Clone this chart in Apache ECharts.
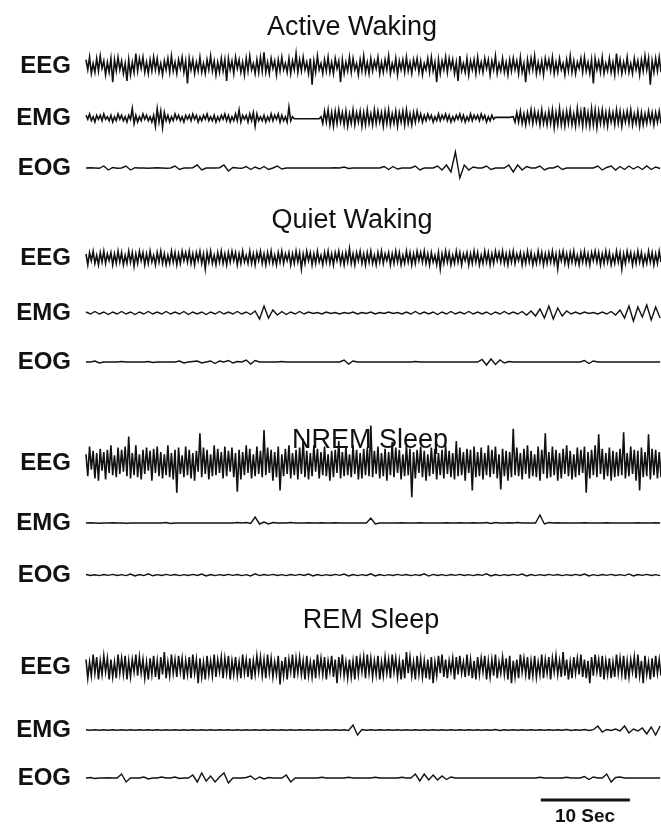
<!DOCTYPE html>
<html><head><meta charset="utf-8">
<script src="https://cdn.jsdelivr.net/npm/echarts@6/dist/echarts.min.js"></script>
<style>html,body{margin:0;padding:0;background:#fff}#c{width:661px;height:827px}</style>
</head><body><div id="c"></div>
<script>
// ---- data ----
const sections = ['Active Waking', 'Quiet Waking', 'NREM Sleep', 'REM Sleep'];
const channels = ['EEG', 'EMG', 'EOG'];
const timeEnd = 64.6;            // seconds across the trace
const stepFast = 0.2;            // s between samples, dense traces
const stepSlow = 0.5;            // s between samples, sparse traces
const scaleBarSec = [51.1, 61.1];
const scaleBarLabel = '10 Sec';

const awEEG = [
5,-3,7,-6,2,-5,6,-4,8,-2,4,-7,3,-5,6,-13,5,-4,7,-3,
4,-6,2,-12,5,-7,3,-5,10,-4,6,-2,7,-5,3,-6,5,-4,7,-3,
6,-5,2,-7,4,-3,6,-5,8,-4,3,-6,5,-2,7,-5,4,-14,6,-3,
5,-6,3,-4,7,-5,2,-6,5,-3,8,-4,4,-7,3,-5,6,-4,5,-12,
6,-3,4,-6,7,-2,5,-5,3,-7,6,-4,8,-3,2,-6,5,-5,7,-4,
11,-5,3,-6,6,-2,4,-7,5,-4,7,-3,2,-5,6,-6,4,-3,10,-5,
5,-4,7,-3,3,-6,6,-15,4,-5,8,-3,2,-6,5,-4,7,-5,3,-6,
6,-2,4,-13,5,-6,3,-4,7,-5,6,-3,2,-7,5,-4,8,-5,3,-6,
6,-4,4,-2,7,-6,3,-5,5,-3,8,-6,2,-4,6,-7,4,-3,5,-5,
7,-4,3,-6,5,-2,6,-5,4,-7,2,-3,6,-5,7,-4,3,-13,5,-6,
4,-3,7,-5,6,-2,5,-6,3,-12,8,-4,2,-5,6,-7,4,-3,5,-6,
7,-4,3,-5,6,-2,5,-7,4,-3,8,-6,2,-4,6,-5,3,-7,5,-4,
6,-3,4,-6,7,-5,2,-13,5,-4,6,-3,8,-6,3,-5,4,-7,6,-2,
5,-4,7,-6,3,-5,6,-3,2,-7,5,-4,8,-5,4,-6,3,-2,6,-5,
7,-4,3,-6,5,-14,6,-3,4,-5,7,-6,2,-4,6,-5,3,-7,10,-4,
5,-6,3,-4,7,-5,2,-6,6,-3,4,-7,5,-4,8,-3,6,-15,4,-5,
6,-4,7,-5];
const awEMG = [
2,-1,3,-2,1,-3,2,-1,2,-2,3,-1,1,-2,2,-3,1,-2,3,-1,
2,-2,1,-3,2,-1,7,-4,2,-3,1,-2,3,-1,2,-2,1,-3,2,-6,
7,-3,5,-7,4,-2,2,-3,1,-2,3,-1,2,-2,1,-3,2,-1,2,-2,
3,-1,2,-3,1,-2,2,-1,3,-2,1,-2,2,-3,1,-2,2,-1,3,-2,
2,-3,1,-2,3,-2,6,-3,2,-1,2,-3,3,-2,4,-6,3,-2,1,-2,
2,-3,1,-2,3,-2,2,-1,3,-3,2,-2,1,-3,8,-2,1,-0.5,0.5,-0.5,
0.5,-0.5,0.5,-0.5,0.5,-0.5,0.5,-0.5,0.5,-0.5,0.5,-0.5,1,-4,5,-3,6,-5,4,-6,
5,-4,6,-3,4,-5,5,-6,3,-4,6,-5,4,-3,5,-6,4,-5,6,-4,
3,-5,6,-4,5,-3,4,-6,5,-4,6,-5,3,-4,5,-6,4,-3,5,-5,
6,-4,3,-5,4,-3,5,-2,3,-3,2,-2,3,-1,2,-3,1,-2,3,-2,
2,-1,3,-2,2,-3,1,-2,2,-1,3,-2,2,-3,1,-2,3,-2,2,-1,
2,-2,3,-1,2,-3,1,-2,2,-1,0.5,-0.5,0.5,-0.5,0.5,-0.5,0.5,-0.5,0.5,-0.5,
1,-3,4,-3,5,-4,3,-5,4,-3,6,-4,5,-3,4,-5,6,-4,3,-5,
5,-4,6,-7,4,-5,7,-5,4,-6,5,-4,6,-5,3,-6,7,-4,5,-6,
8,-5,4,-6,7,-5,6,-7,5,-4,6,-5,4,-6,5,-3,4,-5,6,-4,
5,-6,4,-3,5,-4,6,-5,3,-4,5,-6,4,-5,3,-4,5,-3,4,-5,
4,-3,5,-4];
const awEOG = [
0,0.3,0,-0.3,2,-2,0.5,-0.3,0,2,
-2,0.3,0,0,-0.3,0,0.3,0,-0.3,0,
2,-1.5,0,0,0.3,3,-2,0,0,0,
0.3,3,-3,0.5,0,-0.3,1.5,-1.5,1,-1,
1.5,-1.5,0,2,-1,0,0,0,0,0,
0,0,0,0,0,0,0.3,0,1,-0.5,
0,0,0,0,0,0,0,1.5,-1.5,1.5,
-1,0,0,0,2,-2,0,0,0,2,
-2,3,-4,16,-10,3,-2,1,0,0,
2,-1.5,0,0,0,3,-4,3,-2,1.5,
0,0,2,-2,0,0,2,-1.5,0,0,
0,0,0,0,0,2,-2,0.5,2,-2,
1.5,-1.5,2,-1,1.5,-1.5,2,-1.5,1,-0.5];

const qwEEG = [
3,-5,4,-2,5,-4,2,-5,4,-3,5,-4,3,-2,4,-5,3,-4,5,-3,
4,-5,2,-4,5,-3,4,-6,3,-4,5,-2,4,-5,3,-4,5,-3,2,-5,
4,-3,5,-4,3,-5,2,-4,5,-3,4,-5,3,-4,5,-2,4,-3,5,-4,
3,-5,4,-2,5,-4,3,-8,4,-3,5,-4,2,-5,4,-3,5,-4,3,-5,
4,-3,5,-2,4,-5,3,-4,5,-3,2,-4,5,-4,3,-5,4,-2,5,-4,
3,-5,4,-3,5,-4,2,-5,4,-3,5,-4,3,-2,4,-5,3,-4,5,-3,
4,-8,3,-4,5,-2,4,-5,3,-4,5,-3,2,-5,4,-3,5,-4,3,-5,
4,-2,5,-4,3,-5,4,-3,7,-4,3,-5,4,-2,5,-4,3,-5,4,-3,
5,-4,2,-5,4,-3,5,-4,3,-2,4,-5,3,-4,5,-3,4,-5,2,-4,
5,-3,4,-5,3,-4,5,-2,4,-3,5,-4,3,-5,4,-3,2,-5,4,-8,
3,-4,5,-3,4,-5,2,-4,5,-3,4,-5,3,-2,4,-5,3,-4,5,-3,
4,-5,2,-4,5,-3,4,-5,3,-4,5,-2,4,-3,5,-4,3,-5,4,-3,
5,-4,3,-2,4,-5,3,-4,5,-3,4,-5,2,-4,5,-3,4,-5,3,-4,
4,-3,5,-4,3,-8,4,-2,5,-4,3,-5,4,-3,5,-4,2,-5,4,-3,
5,-4,3,-5,4,-2,5,-3,4,-5,3,-4,5,-3,4,-5,2,-4,5,-3,
4,-8,3,-4,5,-2,4,-5,3,-4,5,-3,4,-5,2,-4,5,-3,4,-5,
3,-4,5,-3];
const qwEMG = [
1,-1,1.5,-1,1,-1.5,1,-1,1.5,-1,
1,-1.5,1,-1,1.5,-1,1,-1,1.5,-1,
1,-1,1.5,-1.5,1,-1,1,-1.5,1,-1,
1.5,-1,1,-1,1.5,-1,1,-1.5,2,-6,
7,-5,3,-2,1.5,-1.5,1,-1,1.5,-1,
1,-0.5,0.5,-1,1,-0.5,0.5,-1,0.5,-0.5,
1,-1,0.5,-0.5,1,-1,0.5,-0.5,1,-0.5,
0.5,-1,1,-1,1.5,-1,1,-1,1,-1.5,
1,-1,1.5,-1,1,-1,1.5,-1,1,-1,
1,-1.5,1,-1,1.5,-1,1,-1,1.5,-2,
2,-3,4,-5,7,-6,5,-3,2,-1,
1,-1,1,-0.5,0.5,-1,1,-1,1.5,-2,
3,-5,7,-8,6,-4,8,-7,6,-5];
const qwEOG = [
0,0,1,-1,0,0,0,0,0.5,0,
0,0,0,0,0.5,-0.5,0,0,0,0,
0,1,-1,0,0.5,1,-1,0,1,-1.5,
1,0,1.5,-1,0.5,0,2,-2,1.5,0,
0,0,0,0,0.5,0,0,0,0,0,
0,0,0,0,0,0,0,0,2,-2,
1,0,0,0,0,0,0,0,0,0,
0,0,0,0,0.5,0,0,0,0,0,
0,0,0,0,0,0,0,0,0,2.5,
-3,3,-2.5,2,-1,0.5,0,0,0,0,
0,0,0,0,0,0,0,0,0,0,
0,0,1.5,-1.5,1,0,0,0,0,0,
0,0,0,0,0,0,0,0,0,0];

const nrEEG = [
8,-12,15,-6,11,-14,9,-16,13,-7,10,-15,12,-9,16,-11,7,-13,14,-10,
12,-8,15,-12,24,-14,9,-11,16,-13,8,-15,12,-10,14,-7,11,-16,13,-9,
15,-12,10,-14,8,-11,16,-13,9,-15,12,-27,14,-10,7,-13,15,-11,12,-14,
9,-16,11,-8,27,-13,14,-10,12,-15,8,-12,16,-11,13,-9,10,-14,15,-12,
11,-8,14,-13,9,-26,12,-15,10,-11,16,-9,13,-14,8,-12,15,-10,11,-13,
30,-11,14,-9,12,-16,10,-13,15,-25,8,-12,13,-10,16,-14,9,-11,12,-15,
14,-10,22,-13,11,-15,9,-12,16,-8,13,-14,10,-11,15,-12,8,-16,11,-13,
12,-9,20,-14,10,-12,15,-11,8,-13,16,-10,12,-15,9,-14,13,-11,14,-12,
34,-13,11,-10,15,-14,9,-12,13,-16,10,-11,19,-13,14,-9,12,-15,8,-12,
16,-11,13,-31,10,-14,12,-9,15,-13,11,-16,8,-12,14,-10,13,-15,9,-11,
12,-14,16,-10,11,-13,9,-15,20,-12,14,-11,10,-16,13,-9,12,-25,15,-13,
10,-12,14,-15,9,-11,16,-13,12,-10,15,-14,8,-24,13,-12,11,-16,10,-13,
31,-11,14,-12,9,-15,13,-10,16,-14,11,-12,8,-13,15,-16,12,-10,27,-14,
10,-13,15,-11,12,-16,9,-14,13,-10,16,-12,11,-15,8,-13,14,-11,12,-9,
15,-27,10,-14,12,-11,16,-13,26,-10,13,-15,9,-12,14,-16,11,-13,10,-12,
13,-11,28,-14,9,-12,15,-10,12,-16,11,-25,14,-13,10,-12,26,-15,13,-11,
12,-14,10,-13];
const nrEMG = [
0,0.3,0,-0.3,0,0,0.3,0,0,-0.3,
0,0,0,0,0,0,0,0,0.5,-0.5,
0,0,0,0,0,0,0,0,0,0,
0,0,0,0,0.5,0,0.5,-0.5,6,-1,
1,-1,0.5,0,0,0,0.5,0,0,0,
0.3,0,0,0.3,0,0,0.3,0,0,0,
0,0,0,0,5,-1,0,0,0,0,
0,0.3,0,0,0,0.3,0,0,0,0,
0,0.3,0,0,0.3,0,0,0.3,0,0,
0.5,-0.5,0.5,0,0,0.3,0,0.5,0,0,
0,0,8,-1,0.5,0,0.3,0,0,0,
0,0,0.3,0,0,0,0,0.3,0,0,
0,0,0,0,0.3,0,0,0,0.3,0];
const nrEOG = [
0.5,-0.5,0.3,-0.6,0.5,-0.4,0.6,-0.5,0.4,-0.6,
1,-1,0.5,-0.6,1.2,-0.8,0.4,-0.5,0.6,-0.4,
0.5,-0.6,0.4,-0.5,0.6,-0.5,1,-1,0.5,-0.6,
0.4,-0.5,0.6,-0.4,0.5,-0.6,0.4,-1,1.2,-0.6,
0.5,-0.4,0.6,-0.5,0.4,-0.6,0.5,-0.4,0.6,-0.5,
1,-1,0.5,-0.6,0.4,-0.5,0.6,-0.4,1,-0.9,
0.5,-0.6,0.4,-0.5,1.2,-1,0.5,-0.6,0.4,-0.5,
0.6,-0.4,0.5,-0.6,0.4,-0.5,1.2,-1.1,0.6,-0.5,
0.4,-0.6,0.5,-0.4,0.6,-0.5,0.4,-0.6,0.5,-0.4,
1.2,-1,0.5,-0.6,0.4,-0.5,0.6,-0.4,1,-1,
0.5,-0.6,0.4,-0.5,0.6,-0.4,0.5,-0.6,0.4,-0.5,
0.6,-0.5,1,-1,0.4,-0.6,0.5,-0.4,0.6,-0.5,
0.4,-0.6,1.1,-1,0.5,-0.4,0.6,-0.5,0.4,-0.6];

const remEEG = [
6,-9,4,-7,10,-5,8,-10,5,-6,9,-4,7,-10,6,-8,4,-9,10,-5,
7,-6,9,-10,5,-8,6,-4,10,-7,8,-5,6,-9,4,-10,7,-6,9,-8,
5,-10,8,-6,12,-9,4,-7,10,-5,6,-8,9,-4,7,-10,5,-6,8,-9,
10,-5,6,-13,7,-8,4,-10,9,-6,5,-7,10,-8,6,-4,8,-9,7,-5,
9,-10,5,-6,8,-7,4,-9,10,-5,6,-8,7,-10,5,-6,9,-4,8,-7,
6,-9,10,-5,7,-8,4,-6,9,-14,5,-7,8,-10,6,-4,10,-9,7,-5,
8,-6,5,-10,9,-7,4,-8,6,-9,10,-5,7,-6,8,-10,5,-4,9,-8,
6,-13,8,-5,10,-7,4,-9,6,-8,5,-10,9,-6,7,-4,8,-9,10,-5,
7,-8,5,-6,9,-10,4,-7,8,-5,6,-9,10,-4,7,-8,5,-10,6,-9,
12,-5,8,-7,4,-10,9,-6,7,-8,5,-9,6,-10,8,-13,4,-7,9,-5,
10,-8,6,-9,5,-4,7,-10,8,-6,9,-5,4,-8,10,-7,6,-9,5,-10,
8,-6,7,-4,9,-10,5,-8,6,-7,10,-9,4,-5,8,-6,7,-10,9,-13,
5,-8,6,-9,10,-4,7,-6,8,-10,5,-7,9,-8,4,-6,10,-9,6,-5,
8,-10,7,-4,9,-6,5,-8,12,-7,6,-10,4,-9,8,-5,7,-6,10,-8,
6,-9,5,-13,8,-7,10,-4,6,-8,9,-10,5,-6,7,-9,4,-8,10,-5,
7,-6,9,-10,5,-8,6,-4,8,-9,10,-7,5,-13,9,-6,4,-10,7,-8,
9,-5,6,-7];
const remEMG = [
0.3,-0.3,0.3,-0.3,0.3,-0.3,0.3,-0.3,0.3,-0.3,
0.3,-0.3,0.3,-0.3,0.3,-0.3,0.3,-0.3,0.3,-0.3,
0.3,-0.3,0.3,-0.3,0.3,-0.3,0.3,-0.3,0.3,-0.3,
0.3,-0.3,0.3,-0.3,0.3,-0.3,0.3,-0.3,0.3,-0.3,
0.3,-0.3,0.3,-0.3,0.3,-0.3,0.3,-0.3,0.3,-0.3,
0.3,-0.3,0.3,-0.3,0.3,-0.3,0.3,-0.3,0.3,-0.5,
5,-5,0.5,-0.3,0.3,-0.3,0.3,-0.3,0.3,-0.3,
0.3,-0.3,0.3,-0.3,0.3,-0.3,0.3,-0.3,0.3,-0.3,
0.3,-0.3,0.3,-0.3,0.3,-0.3,0.3,-0.3,0.3,-0.3,
0.3,-0.3,0.5,-0.5,0.3,-0.3,0.3,-0.3,0.3,-0.3,
0.3,-0.3,0.3,-0.3,0.3,-0.3,0.3,-0.3,0.5,-0.5,
0.3,-0.3,0.5,-0.5,0.3,4,-2,0.5,-0.5,1,
-1,4,-3,1,-1,2,-4,3,-5,4];
const remEOG = [
0,0.5,-0.5,0,0,0.3,0,0,4,-4,
0,0,0,1,-1,0,0,1,0,0,
1,-0.5,0,0,3,-4,5,-3,2,-4,
1,5,-5,0,0,0,0.5,2,-1.5,1,
-1,0.5,0,0,0,3,-4,0,0,0,
0,0,0,0.8,0,0,0,0,0,0.8,
0,0,0,0,0,0.8,0,0,0,0,
0,0.8,0,0,4,-3,4,-2,3,-2,
2,-1.5,1,0,0,0,0,0,0,0,
0,0,0,0,0,0,0,0,0,0,
0,0,0.8,0,0,0,0,0,0.8,0,
0,0,1.5,-1.5,1,0,0,4,-4,0.5,
1,0,0,0,0,0,0,0,0,0];

const traceData = [awEEG, awEMG, awEOG, qwEEG, qwEMG, qwEOG, nrEEG, nrEMG, nrEOG, remEEG, remEMG, remEOG];
const traceStep = [stepFast, stepFast, stepSlow, stepFast, stepSlow, stepSlow, stepFast, stepSlow, stepSlow, stepFast, stepSlow, stepSlow];

// ---- layout / style ----
const plotLeft = 86, plotWidth = 575, halfH = 40;
const traceY = [66, 118, 168, 258, 313, 362, 463, 523, 575, 667, 730, 778];
const traceGain = [1.25, 1.35, 1, 1.35, 1, 1, 1.1, 1, 1, 1.25, 1, 1];
const titleX = [352, 352, 370, 371];
const titleY = [28, 221, 441, 621];
const inkColor = '#111';

const grids = [], xAxes = [], yAxes = [], series = [];
traceData.forEach((arr, k) => {
  const step = traceStep[k];
  grids.push({left: plotLeft, width: plotWidth, top: traceY[k] - halfH, height: 2 * halfH, containLabel: false});
  xAxes.push({type: 'value', gridIndex: k, min: 0, max: timeEnd, show: false});
  const lim = halfH / traceGain[k];
  yAxes.push({
    type: 'value', gridIndex: k, min: -lim, max: lim,
    name: channels[k % 3], nameLocation: 'middle', nameRotate: 0, nameGap: 15,
    nameTextStyle: {fontFamily: 'Liberation Sans', fontWeight: 'bold', fontSize: 24, color: inkColor, align: 'right', verticalAlign: 'middle'},
    axisLine: {show: false}, axisTick: {show: false}, axisLabel: {show: false}, splitLine: {show: false}
  });
  series.push({
    type: 'line', xAxisIndex: k, yAxisIndex: k, showSymbol: false, symbol: 'none',
    sampling: null, clip: false, silent: true,
    lineStyle: {color: inkColor, width: step === stepFast ? 1.6 : 1.4, join: 'miter'},
    data: arr.map((v, i) => [i * step, v])
  });
});
// scale bar
const sb = traceData.length;
grids.push({left: plotLeft, width: plotWidth, top: 790, height: 20});
xAxes.push({type: 'value', gridIndex: sb, min: 0, max: timeEnd, show: false});
yAxes.push({type: 'value', gridIndex: sb, min: -1, max: 1, show: false});
series.push({
  type: 'line', xAxisIndex: sb, yAxisIndex: sb, showSymbol: false, silent: true, clip: false,
  lineStyle: {color: inkColor, width: 3},
  data: [[scaleBarSec[0], 0], [scaleBarSec[1], 0]]
});

const graphics = sections.map((s, i) => ({
  type: 'text', x: titleX[i], y: titleY[i],
  style: {text: s, fill: inkColor, font: '27px "Liberation Sans"', textAlign: 'center', textVerticalAlign: 'middle'}
}));
graphics.push({type: 'text', x: 585, y: 817,
  style: {text: scaleBarLabel, fill: inkColor, font: 'bold 19px "Liberation Sans"', textAlign: 'center', textVerticalAlign: 'middle'}});

const chart = echarts.init(document.getElementById('c'));
chart.setOption({
  animation: false,
  backgroundColor: '#fff',
  grid: grids, xAxis: xAxes, yAxis: yAxes, series: series,
  graphic: graphics
});
</script></body></html>
